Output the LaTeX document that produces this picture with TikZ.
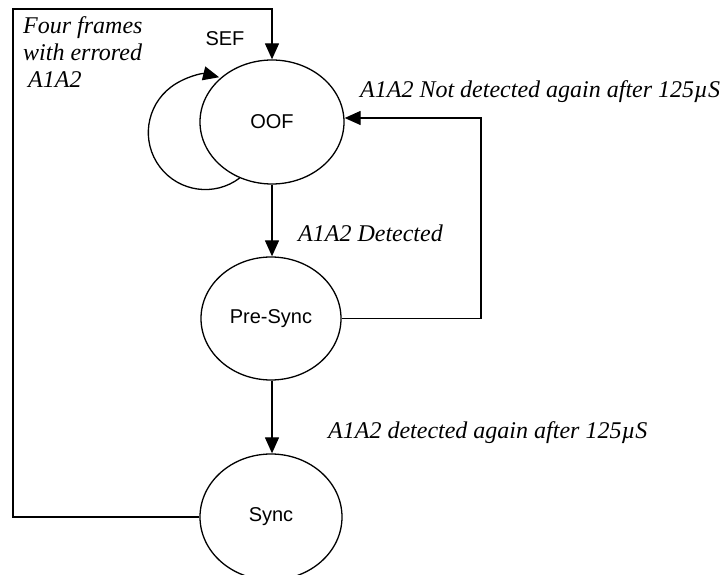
\documentclass[tikz,border=0pt]{standalone}
\usepackage{fontspec}
\setmainfont{Liberation Serif}
\setsansfont{Liberation Sans}
\usetikzlibrary{shapes.geometric,arrows.meta}
\begin{document}
\begin{tikzpicture}[x=1pt,y=1pt,
  state/.style={draw,ellipse,line width=1.3pt,inner sep=0pt,minimum width=142pt,minimum height=124pt,
    font=\sffamily\fontsize{20}{24}\selectfont},
  conn/.style={line width=1.3pt},
  arr/.style={conn,-{Triangle[length=16pt,width=14pt]}},
  lab/.style={inner sep=0pt,font=\itshape\fontsize{24}{27}\selectfont},
  sans/.style={inner sep=0pt,font=\sffamily\fontsize{20}{24}\selectfont}]
\useasboundingbox (0,0) rectangle (726,575);
% states (y = 575 - screen y)
\node[state,minimum width=144pt] (oof) at (272,453) {\raisebox{-5pt}{OOF}};
\node[state,minimum width=140pt,minimum height=123pt] (presync) at (271,256.5) {Pre-Sync};
\node[state,minimum height=126pt] (sync) at (271,58) {Sync};
% corners
\coordinate (tl) at (13,566);
\coordinate (rt) at (481,457);
% connectors
\draw[arr] (oof.south -| 272,0) -- (presync.north -| 272,0);
\draw[arr] (presync.south -| 272,0) -- (sync.north -| 272,0);
\draw[arr] (sync.west) -| (tl) -| (oof.north);
\draw[arr] (presync.east) -| (rt) -- (rt -| oof.east);
\draw[arr] (oof.240) arc[start angle=-53,end angle=-284,radius=57];
% labels
\node[lab,anchor=north west,align=left] (fourtxt) at (23,558.5) {Four frames\\with errored\\\hspace*{5pt}A1A2};
\node[sans] (seftxt) at (225,536) {SEF};
\node[lab,anchor=base west] (dettxt) at (298,333) {A1A2 Detected};
\node[lab,anchor=base west] (nottxt) at (360,477) {A1A2 Not detected again after 125µS};
\node[lab,anchor=base west] (againtxt) at (328,136) {A1A2 detected again after 125µS};
\end{tikzpicture}
\end{document}
